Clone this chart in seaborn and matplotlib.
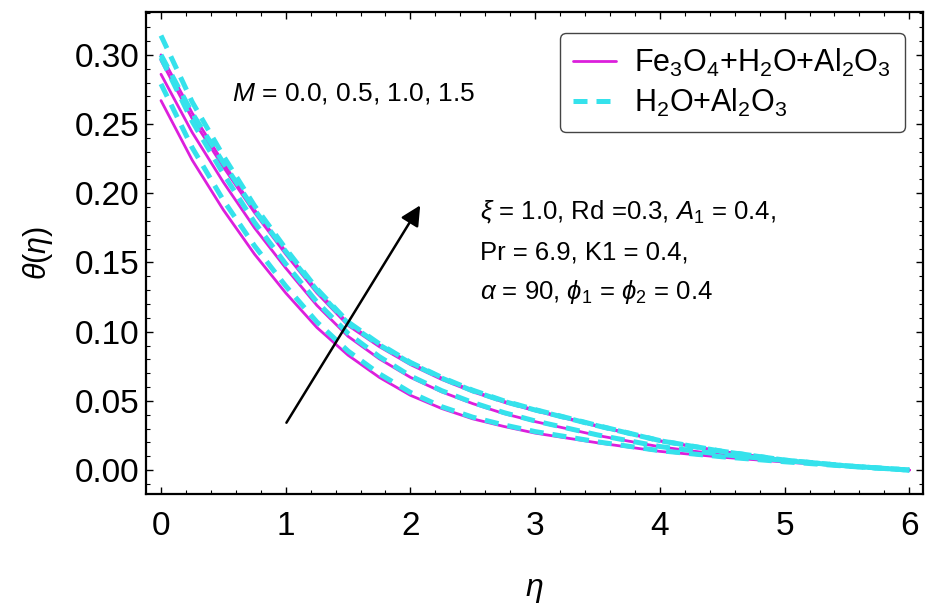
import matplotlib
matplotlib.use("Agg")
import matplotlib.pyplot as plt
from matplotlib.lines import Line2D
from matplotlib.ticker import MultipleLocator, FormatStrFormatter
import pandas as pd
import seaborn as sns

# eta grid and theta profiles
eta = [0, 0.25, 0.5, 0.75, 1, 1.25, 1.5, 1.75, 2, 2.25, 2.5, 2.75, 3, 3.5, 4, 4.5, 5, 5.5, 6]
m_values = ["0.0", "0.5", "1.0", "1.5"]

# Fe3O4 + H2O + Al2O3 (solid magenta)
hybrid_m00 = [0.267, 0.224, 0.188, 0.156, 0.128, 0.103, 0.083, 0.067, 0.054, 0.0445, 0.037, 0.0315, 0.0267, 0.0197, 0.0135, 0.0093, 0.0058, 0.0027, 0.0]
hybrid_m05 = [0.286, 0.244, 0.208, 0.175, 0.146, 0.119, 0.0966, 0.0804, 0.067, 0.0565, 0.048, 0.0408, 0.035, 0.025, 0.0168, 0.011, 0.0068, 0.003, 0.0]
hybrid_m10 = [0.296, 0.254, 0.219, 0.186, 0.156, 0.128, 0.1045, 0.0892, 0.0762, 0.0655, 0.0565, 0.049, 0.0428, 0.0316, 0.021, 0.0134, 0.0071, 0.003, 0.0]
hybrid_m15 = [0.300, 0.258, 0.222, 0.188, 0.158, 0.130, 0.106, 0.0905, 0.0773, 0.0665, 0.0572, 0.0496, 0.0434, 0.032, 0.0212, 0.0135, 0.0072, 0.003, 0.0]

# H2O + Al2O3 (dashed cyan)
nano_m00 = [0.279, 0.233, 0.195, 0.162, 0.133, 0.107, 0.086, 0.0696, 0.0561, 0.0458, 0.0382, 0.0326, 0.0278, 0.0204, 0.014, 0.0096, 0.006, 0.0028, 0.0]
nano_m05 = [0.298, 0.252, 0.214, 0.179, 0.149, 0.1215, 0.0987, 0.082, 0.068, 0.0574, 0.0488, 0.0415, 0.0355, 0.0254, 0.017, 0.0112, 0.0069, 0.003, 0.0]
nano_m10 = [0.300, 0.258, 0.222, 0.188, 0.158, 0.130, 0.106, 0.0905, 0.0773, 0.0665, 0.0572, 0.0496, 0.0434, 0.032, 0.0212, 0.0135, 0.0072, 0.003, 0.0]
nano_m15 = [0.314, 0.266, 0.227, 0.191, 0.160, 0.131, 0.107, 0.0913, 0.0778, 0.067, 0.0577, 0.05, 0.0437, 0.0322, 0.0213, 0.0136, 0.0072, 0.003, 0.0]

hybrid = [hybrid_m00, hybrid_m05, hybrid_m10, hybrid_m15]
nano = [nano_m00, nano_m05, nano_m10, nano_m15]

magenta = "#dc1fdc"
cyan = "#35e2ec"
dash = (0, (2.8, 1.8))

sns.set_theme(style="ticks")
plt.rcParams["font.family"] = ["Liberation Sans", "DejaVu Sans"]
plt.rcParams["mathtext.fontset"] = "custom"
plt.rcParams["mathtext.rm"] = "Liberation Sans"
plt.rcParams["mathtext.it"] = "Liberation Sans:italic"
plt.rcParams["text.color"] = "black"
plt.rcParams["axes.labelcolor"] = "black"
plt.rcParams["xtick.color"] = "black"
plt.rcParams["ytick.color"] = "black"

fig = plt.figure(figsize=(9.26, 6.12), dpi=100)
ax = fig.add_axes([0.1577, 0.1928, 0.8391, 0.7876])

for m, vals in zip(m_values, hybrid):
    df = pd.DataFrame({"eta": eta, "theta": vals})
    sns.lineplot(data=df, x="eta", y="theta", ax=ax, color=magenta, lw=2.0)
for m, vals in zip(m_values, nano):
    df = pd.DataFrame({"eta": eta, "theta": vals})
    sns.lineplot(data=df, x="eta", y="theta", ax=ax, color=cyan, lw=3.6, linestyle=dash)

ax.set_xlim(-0.12, 6.11)
ax.set_ylim(-0.0173, 0.331)
ax.xaxis.set_major_locator(MultipleLocator(1))
ax.xaxis.set_minor_locator(MultipleLocator(0.2))
ax.yaxis.set_major_locator(MultipleLocator(0.05))
ax.yaxis.set_minor_locator(MultipleLocator(0.01))
ax.yaxis.set_major_formatter(FormatStrFormatter("%.2f"))
ax.tick_params(which="both", direction="in", top=True, right=True)
ax.tick_params(which="major", length=5, width=1.0, labelsize=24)
ax.tick_params(which="minor", length=3, width=0.8)
ax.tick_params(axis="x", pad=12)
ax.tick_params(axis="y", pad=5)
for s in ax.spines.values():
    s.set_linewidth(1.6)
    s.set_color("black")

ax.set_xlabel(r"$\eta$", fontsize=23, labelpad=24)
ax.set_ylabel(r"$\theta(\eta)$", fontsize=22, labelpad=14)

ax.text(0.57, 0.272, r"$M$ = 0.0, 0.5, 1.0, 1.5", fontsize=19, va="center")
ax.text(2.556, 0.1864, r"$\xi$ = 1.0, Rd =0.3, $A_1$ = 0.4,", fontsize=18.5, va="center")
ax.text(2.556, 0.1575, "Pr = 6.9, K1 = 0.4,", fontsize=18.5, va="center")
ax.text(2.556, 0.1286, r"$\alpha$ = 90, $\phi_1$ = $\phi_2$ = 0.4", fontsize=18.5, va="center")

ax.annotate("", xy=(2.09, 0.193), xytext=(0.994, 0.0325),
            arrowprops=dict(arrowstyle="-|>", color="black", lw=1.8, mutation_scale=30))

handles = [Line2D([], [], color=magenta, lw=2.0),
           Line2D([], [], color=cyan, lw=3.6, linestyle=dash)]
labels = [r"Fe$_3$O$_4$+H$_2$O+Al$_2$O$_3$", r"H$_2$O+Al$_2$O$_3$"]
leg = ax.legend(handles, labels, loc="upper right", bbox_to_anchor=(0.9768, 0.9564),
                borderaxespad=0, fontsize=22, frameon=True, fancybox=True,
                handlelength=1.4, labelspacing=0.25, borderpad=0.45, handletextpad=0.6)
leg.get_frame().set_edgecolor("#444444")
leg.get_frame().set_linewidth(1.0)
leg.get_frame().set_alpha(1)

fig.savefig("out.png", dpi=100)
